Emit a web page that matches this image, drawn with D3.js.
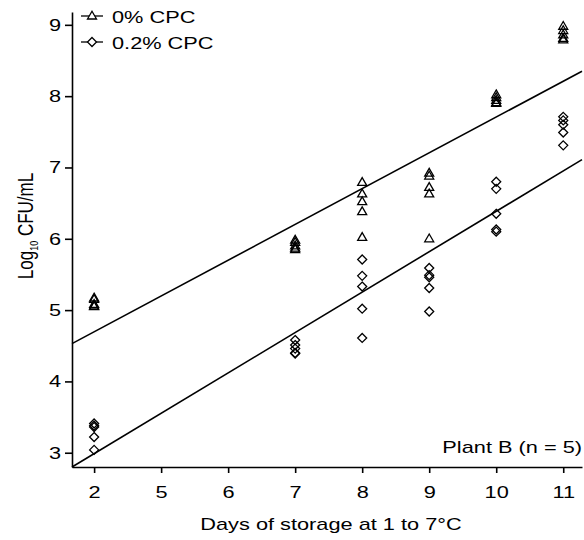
<!DOCTYPE html>
<html>
<head>
<meta charset="utf-8">
<script src="https://cdn.jsdelivr.net/npm/d3@7"></script>
<style>
  body { margin: 0; background: #fff; }
  svg { display: block; font-family: "Liberation Sans", Arial, sans-serif; }
</style>
</head>
<body>
<svg id="chart" width="584" height="540"></svg>
<script>
// tick labels on the x axis (equally spaced, not to scale)
const dayTicks = [2, 5, 6, 7, 8, 9, 10, 11]
const yTicks = [3, 4, 5, 6, 7, 8, 9]

// days that were sampled
const sampleDays = [2, 7, 8, 9, 10, 11]

// log10 CFU/mL, five samples per day
const cpc0 = [
    [5.17, 5.15, 5.08, 5.06, 5.05],
    [5.98, 5.95, 5.90, 5.87, 5.85],
    [6.79, 6.63, 6.52, 6.38, 6.02],
    [6.92, 6.88, 6.72, 6.63, 6.00],
    [8.02, 7.98, 7.94, 7.91, 7.90],
    [8.98, 8.92, 8.86, 8.81, 8.79]
]
const cpc02 = [
    [3.41, 3.38, 3.36, 3.22, 3.04],
    [4.58, 4.51, 4.46, 4.40, 4.39],
    [5.71, 5.48, 5.33, 5.02, 4.61],
    [5.59, 5.49, 5.46, 5.31, 4.98],
    [6.80, 6.70, 6.35, 6.13, 6.10],
    [7.71, 7.66, 7.60, 7.49, 7.31]
]

// fitted lines, value at left and right end of the x domain
const xDomain = [-0.33, 7.28]
const fit0 = [4.53, 8.35]
const fit02 = [2.80, 7.11]

const margin = {top: 12, right: 2, bottom: 73, left: 72}
const width = 584 - margin.left - margin.right
const height = 540 - margin.top - margin.bottom
const fontSize = 17
const stretch = 1.28   // the original figure's text is wider than tall

let svg = d3.select('#chart')
let g = svg.append('g')
    .attr('transform', `translate(${margin.left}, ${margin.top})`)

let x = d3.scaleLinear().domain(xDomain).range([0, width])
let y = d3.scaleLinear().domain([2.8, 9.18]).range([height, 0])

const dayPos = d => dayTicks.indexOf(d)

// axes
let xAxis = g.append('g')
    .attr('transform', `translate(0, ${height})`)
    .call(d3.axisBottom(x)
        .tickValues(dayTicks.map(dayPos))
        .tickFormat(i => dayTicks[i])
        .tickSize(6)
        .tickSizeOuter(0)
        .tickPadding(13))

let yAxis = g.append('g')
    .call(d3.axisLeft(y)
        .tickValues(yTicks)
        .tickFormat(d3.format('d'))
        .tickSize(7)
        .tickSizeOuter(0))

svg.selectAll('.domain, .tick line')
    .attr('stroke', '#000')
    .attr('stroke-width', 1.6)
svg.selectAll('.tick text')
    .attr('font-size', fontSize)
    .attr('font-family', '"Liberation Sans", Arial, sans-serif')
    .attr('fill', '#000')
    .attr('transform', `scale(${stretch}, 1)`)
yAxis.selectAll('.tick text')
    .attr('x', -11 / stretch)

// regression lines
const fitLine = (fit) => {
    g.append('line')
        .attr('x1', x(xDomain[0]))
        .attr('y1', y(fit[0]))
        .attr('x2', x(xDomain[1]))
        .attr('y2', y(fit[1]))
        .attr('stroke', '#000')
        .attr('stroke-width', 1.6)
}
fitLine(fit0)
fitLine(fit02)

const triangle = 'M0,-4.8L4.5,3L-4.5,3Z'
const diamond = 'M0,-4.5L4.5,0L0,4.5L-4.5,0Z'

const plotPoints = (series, shape) => {
    let pts = []
    series.forEach((vals, i) => {
        vals.forEach(v => pts.push({day: sampleDays[i], value: v}))
    })
    g.append('g').selectAll('path')
        .data(pts)
        .enter()
        .append('path')
        .attr('d', shape)
        .attr('transform', p => `translate(${x(dayPos(p.day))}, ${y(p.value)})`)
        .attr('fill', 'none')
        .attr('stroke', '#000')
        .attr('stroke-width', 1.3)
}
plotPoints(cpc0, triangle)
plotPoints(cpc02, diamond)

// legend
const legendItems = [
    {label: '0% CPC', shape: triangle},
    {label: '0.2% CPC', shape: diamond}
]
let legend = svg.append('g')
    .selectAll('g')
    .data(legendItems)
    .enter()
    .append('g')
    .attr('transform', (d, i) => `translate(81, ${16 + i * 26})`)

legend.append('line')
    .attr('x1', 0)
    .attr('x2', 22)
    .attr('stroke', '#000')
    .attr('stroke-width', 1.3)
legend.append('path')
    .attr('d', d => d.shape)
    .attr('transform', 'translate(11, 0)')
    .attr('fill', '#fff')
    .attr('stroke', '#000')
    .attr('stroke-width', 1.3)
legend.append('text')
    .text(d => d.label)
    .attr('transform', `translate(31, 7) scale(${stretch}, 1)`)
    .attr('font-size', fontSize)

// annotation
svg.append('text')
    .text('Plant B (n = 5)')
    .attr('transform', `translate(582, 453) scale(${stretch}, 1)`)
    .attr('text-anchor', 'end')
    .attr('font-size', fontSize)

// axis titles
svg.append('text')
    .text('Days of storage at 1 to 7\u00B0C')
    .attr('transform', `translate(${margin.left + width / 2 + 4}, 530) scale(${stretch}, 1)`)
    .attr('text-anchor', 'middle')
    .attr('font-size', fontSize)

let yTitle = svg.append('text')
    .attr('transform', `translate(33, 226) rotate(-90) scale(1, ${stretch})`)
    .attr('text-anchor', 'middle')
    .attr('font-size', fontSize)
yTitle.append('tspan').text('Log')
yTitle.append('tspan').text('10').attr('font-size', 9).attr('dy', 4)
yTitle.append('tspan').text(' CFU/mL').attr('dy', -4)
</script>
</body>
</html>
